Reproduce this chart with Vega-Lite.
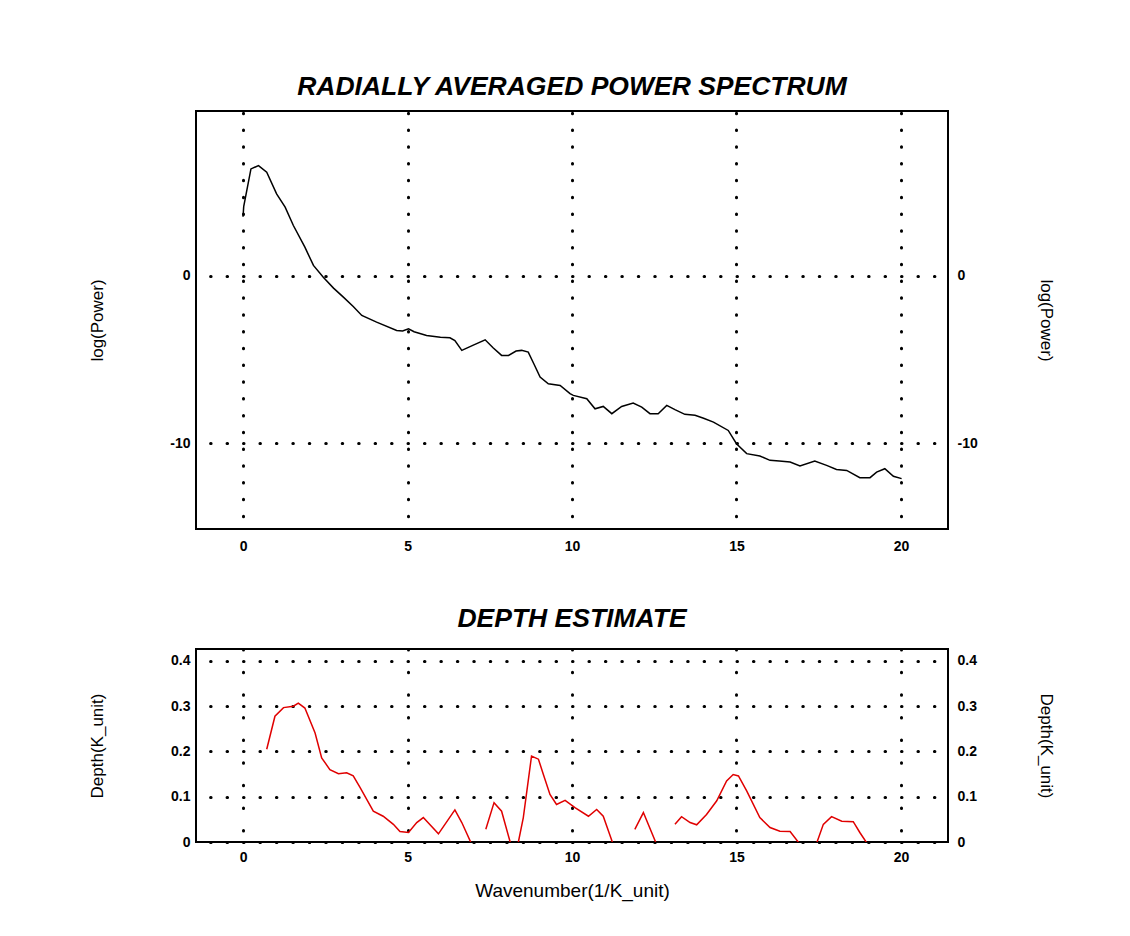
{
  "$schema": "https://vega.github.io/schema/vega-lite/v6.json",
  "background": "white",
  "padding": {"left": 87, "top": 72, "right": 60, "bottom": 20},
  "spacing": 50,
  "config": {
    "font": "Liberation Sans",
    "view": {"stroke": "#000", "strokeWidth": 2},
    "axis": {
      "domain": false, "ticks": false,
      "labelFont": "Liberation Sans", "labelFontSize": 14, "labelFontWeight": "bold", "labelColor": "#000",
      "labelExpr": "'' + datum.value",
      "titleFont": "Liberation Sans", "titleFontWeight": "normal", "titleColor": "#000", "titleFontSize": 17,
      "gridColor": "#000", "gridCap": "round", "gridWidth": 3, "gridOpacity": 1
    },
    "title": {"font": "Liberation Sans", "fontWeight": "bold", "fontStyle": "italic", "fontSize": 26.5, "color": "#000", "anchor": "middle"}
  },
  "vconcat": [
    {
      "width": 752, "height": 418,
      "title": {"text": "RADIALLY AVERAGED POWER SPECTRUM", "offset": 11},
      "data": {"values": [
        {"k": 0, "p": 3.5}, {"k": 0.02, "p": 4.1}, {"k": 0.24, "p": 6.35}, {"k": 0.47, "p": 6.55}, {"k": 0.72, "p": 6.15},
        {"k": 1.02, "p": 4.86}, {"k": 1.28, "p": 4.07}, {"k": 1.53, "p": 2.98}, {"k": 1.88, "p": 1.69}, {"k": 2.14, "p": 0.6},
        {"k": 2.44, "p": -0.1}, {"k": 2.75, "p": -0.75}, {"k": 3.05, "p": -1.29}, {"k": 3.35, "p": -1.85}, {"k": 3.61, "p": -2.38},
        {"k": 4.06, "p": -2.78}, {"k": 4.67, "p": -3.27}, {"k": 4.85, "p": -3.3}, {"k": 5.03, "p": -3.17}, {"k": 5.2, "p": -3.35},
        {"k": 5.58, "p": -3.57}, {"k": 6.0, "p": -3.68}, {"k": 6.29, "p": -3.71}, {"k": 6.44, "p": -3.87}, {"k": 6.65, "p": -4.46},
        {"k": 7.0, "p": -4.15}, {"k": 7.36, "p": -3.83}, {"k": 7.6, "p": -4.3}, {"k": 7.86, "p": -4.76}, {"k": 8.07, "p": -4.76},
        {"k": 8.3, "p": -4.5}, {"k": 8.47, "p": -4.46}, {"k": 8.67, "p": -4.56}, {"k": 8.85, "p": -5.3}, {"k": 9.03, "p": -6.05},
        {"k": 9.28, "p": -6.45}, {"k": 9.64, "p": -6.55}, {"k": 9.94, "p": -7.04}, {"k": 10.04, "p": -7.14}, {"k": 10.45, "p": -7.34},
        {"k": 10.7, "p": -7.94}, {"k": 10.95, "p": -7.8}, {"k": 11.21, "p": -8.23}, {"k": 11.51, "p": -7.8}, {"k": 11.86, "p": -7.6},
        {"k": 12.12, "p": -7.84}, {"k": 12.37, "p": -8.23}, {"k": 12.62, "p": -8.23}, {"k": 12.88, "p": -7.74}, {"k": 13.13, "p": -7.99},
        {"k": 13.43, "p": -8.27}, {"k": 13.74, "p": -8.33}, {"k": 14.0, "p": -8.5}, {"k": 14.3, "p": -8.73}, {"k": 14.75, "p": -9.23},
        {"k": 15.0, "p": -10.02}, {"k": 15.31, "p": -10.61}, {"k": 15.71, "p": -10.75}, {"k": 16.02, "p": -11.01}, {"k": 16.3, "p": -11.05},
        {"k": 16.63, "p": -11.11}, {"k": 16.93, "p": -11.35}, {"k": 17.38, "p": -11.05}, {"k": 17.74, "p": -11.31}, {"k": 18.04, "p": -11.55},
        {"k": 18.35, "p": -11.61}, {"k": 18.75, "p": -12.04}, {"k": 19.06, "p": -12.04}, {"k": 19.26, "p": -11.71}, {"k": 19.51, "p": -11.51},
        {"k": 19.77, "p": -11.96}, {"k": 20.02, "p": -12.1}
      ]},
      "encoding": {
        "x": {"field": "k", "type": "quantitative",
          "scale": {"domain": [-1.43, 21.43], "nice": false, "zero": false},
          "axis": {"values": [0, 5, 10, 15, 20], "title": null, "labelPadding": 10, "gridDash": [0.5, 16.29], "gridDashOffset": 15.11}}
      },
      "layer": [
        {"mark": {"type": "line", "color": "#000", "strokeWidth": 1.5, "clip": true},
          "encoding": {"y": {"field": "p", "type": "quantitative",
            "scale": {"domain": [-15.1, 9.8], "nice": false, "zero": false},
            "axis": {"orient": "left", "values": [0, -10], "title": "log(Power)", "labelPadding": 6, "minExtent": 30, "maxExtent": 30, "titlePadding": 60, "gridDash": [0.5, 15.95], "gridDashOffset": 2.35}}}},
        {"mark": {"type": "line", "opacity": 0, "clip": true},
          "encoding": {"y": {"field": "p", "type": "quantitative",
            "scale": {"domain": [-15.1, 9.8], "nice": false, "zero": false},
            "axis": {"orient": "right", "values": [0, -10], "title": "log(Power)", "grid": false, "labelPadding": 9, "minExtent": 30, "maxExtent": 30, "titlePadding": 58}}}}
      ],
      "resolve": {"axis": {"y": "independent"}}
    },
    {
      "width": 752, "height": 193,
      "title": {"text": "DEPTH ESTIMATE", "offset": 17},
      "data": {"values": [
        {"k": 0.72, "d": 0.205, "seg": 1}, {"k": 0.97, "d": 0.278, "seg": 1}, {"k": 1.23, "d": 0.297, "seg": 1}, {"k": 1.53, "d": 0.3, "seg": 1},
        {"k": 1.68, "d": 0.307, "seg": 1}, {"k": 1.88, "d": 0.296, "seg": 1}, {"k": 2.19, "d": 0.241, "seg": 1}, {"k": 2.39, "d": 0.186, "seg": 1},
        {"k": 2.64, "d": 0.16, "seg": 1}, {"k": 2.9, "d": 0.151, "seg": 1}, {"k": 3.15, "d": 0.153, "seg": 1}, {"k": 3.35, "d": 0.146, "seg": 1},
        {"k": 3.56, "d": 0.12, "seg": 1}, {"k": 3.96, "d": 0.068, "seg": 1}, {"k": 4.26, "d": 0.057, "seg": 1}, {"k": 4.57, "d": 0.039, "seg": 1},
        {"k": 4.77, "d": 0.023, "seg": 1}, {"k": 5.03, "d": 0.021, "seg": 1}, {"k": 5.28, "d": 0.043, "seg": 1}, {"k": 5.48, "d": 0.054, "seg": 1},
        {"k": 5.94, "d": 0.018, "seg": 1}, {"k": 6.44, "d": 0.071, "seg": 1}, {"k": 6.65, "d": 0.043, "seg": 1}, {"k": 6.95, "d": -0.005, "seg": 1},
        {"k": 7.38, "d": 0.028, "seg": 2}, {"k": 7.63, "d": 0.087, "seg": 2}, {"k": 7.86, "d": 0.068, "seg": 2}, {"k": 8.12, "d": 0.0, "seg": 2},
        {"k": 8.25, "d": -0.01, "seg": 2}, {"k": 8.37, "d": 0.0, "seg": 2}, {"k": 8.52, "d": 0.054, "seg": 2}, {"k": 8.77, "d": 0.19, "seg": 2},
        {"k": 8.98, "d": 0.183, "seg": 2}, {"k": 9.13, "d": 0.149, "seg": 2}, {"k": 9.33, "d": 0.105, "seg": 2}, {"k": 9.53, "d": 0.083, "seg": 2},
        {"k": 9.79, "d": 0.092, "seg": 2}, {"k": 10.09, "d": 0.076, "seg": 2}, {"k": 10.5, "d": 0.057, "seg": 2}, {"k": 10.75, "d": 0.072, "seg": 2},
        {"k": 10.95, "d": 0.057, "seg": 2}, {"k": 11.25, "d": -0.005, "seg": 2},
        {"k": 11.91, "d": 0.028, "seg": 3}, {"k": 12.17, "d": 0.065, "seg": 3}, {"k": 12.57, "d": -0.005, "seg": 3},
        {"k": 13.13, "d": 0.039, "seg": 4}, {"k": 13.33, "d": 0.056, "seg": 4}, {"k": 13.59, "d": 0.043, "seg": 4}, {"k": 13.79, "d": 0.038, "seg": 4},
        {"k": 14.09, "d": 0.061, "seg": 4}, {"k": 14.4, "d": 0.091, "seg": 4}, {"k": 14.7, "d": 0.135, "seg": 4}, {"k": 14.9, "d": 0.149, "seg": 4},
        {"k": 15.06, "d": 0.146, "seg": 4}, {"k": 15.31, "d": 0.113, "seg": 4}, {"k": 15.71, "d": 0.054, "seg": 4}, {"k": 16.02, "d": 0.032, "seg": 4},
        {"k": 16.32, "d": 0.024, "seg": 4}, {"k": 16.63, "d": 0.023, "seg": 4}, {"k": 16.93, "d": -0.005, "seg": 4},
        {"k": 17.44, "d": -0.002, "seg": 5}, {"k": 17.64, "d": 0.039, "seg": 5}, {"k": 17.89, "d": 0.056, "seg": 5}, {"k": 18.2, "d": 0.046, "seg": 5},
        {"k": 18.55, "d": 0.045, "seg": 5}, {"k": 18.75, "d": 0.021, "seg": 5}, {"k": 18.96, "d": -0.002, "seg": 5}
      ]},
      "encoding": {
        "x": {"field": "k", "type": "quantitative",
          "scale": {"domain": [-1.43, 21.43], "nice": false, "zero": false},
          "axis": {"values": [0, 5, 10, 15, 20], "title": "Wavenumber(1/K_unit)", "titleFontSize": 19, "titlePadding": 17, "labelPadding": 8, "gridDash": [0.5, 22.13], "gridDashOffset": 0}},
        "detail": {"field": "seg", "type": "nominal"}
      },
      "layer": [
        {"mark": {"type": "line", "color": "#e00000", "strokeWidth": 1.5, "clip": true},
          "encoding": {"y": {"field": "d", "type": "quantitative",
            "scale": {"domain": [0, 0.4265], "nice": false, "zero": false},
            "axis": {"orient": "left", "values": [0, 0.1, 0.2, 0.3, 0.4], "title": "Depth(K_unit)", "labelPadding": 6, "minExtent": 30, "maxExtent": 30, "titlePadding": 60, "gridDash": [0.5, 15.95], "gridDashOffset": 2.35}}}},
        {"mark": {"type": "line", "opacity": 0, "clip": true},
          "encoding": {"y": {"field": "d", "type": "quantitative",
            "scale": {"domain": [0, 0.4265], "nice": false, "zero": false},
            "axis": {"orient": "right", "values": [0, 0.1, 0.2, 0.3, 0.4], "title": "Depth(K_unit)", "grid": false, "labelPadding": 9, "minExtent": 30, "maxExtent": 30, "titlePadding": 58}}}}
      ],
      "resolve": {"axis": {"y": "independent"}}
    }
  ]
}
